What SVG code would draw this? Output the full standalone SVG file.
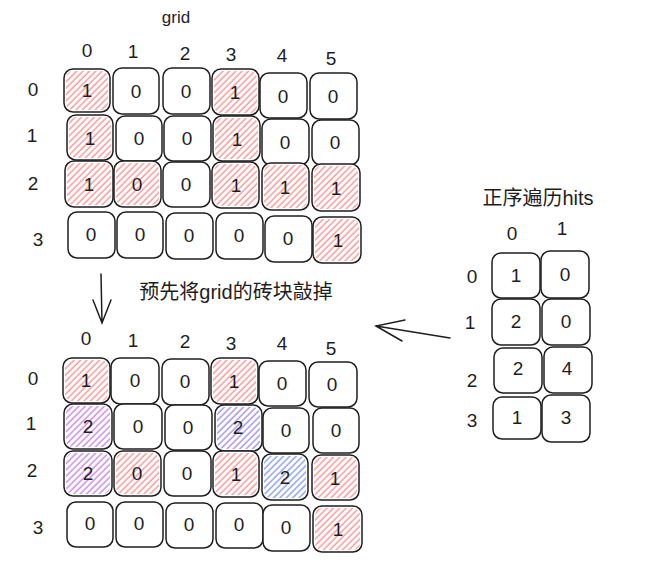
<svg xmlns="http://www.w3.org/2000/svg" width="648" height="584" viewBox="0 0 648 584">
<defs>
<pattern id="hr" patternUnits="userSpaceOnUse" width="4.5" height="4.5" patternTransform="rotate(45)"><line x1="1" y1="0" x2="1" y2="4.5" stroke="#ff8a8a" stroke-width="1.3"/></pattern>
<pattern id="hp" patternUnits="userSpaceOnUse" width="4.5" height="4.5" patternTransform="rotate(45)"><line x1="1" y1="0" x2="1" y2="4.5" stroke="#c77ce8" stroke-width="1.3"/></pattern>
<pattern id="hv" patternUnits="userSpaceOnUse" width="4.5" height="4.5" patternTransform="rotate(45)"><line x1="1" y1="0" x2="1" y2="4.5" stroke="#9b86f0" stroke-width="1.3"/></pattern>
<pattern id="hb" patternUnits="userSpaceOnUse" width="4.5" height="4.5" patternTransform="rotate(45)"><line x1="1" y1="0" x2="1" y2="4.5" stroke="#7f95f2" stroke-width="1.3"/></pattern>
</defs>
<style>
.c{fill:#fff;stroke:#1e1e1e;stroke-width:1.5}
.r{fill:url(#hr)}
.p{fill:url(#hp)}
.v{fill:url(#hv)}
.b{fill:url(#hb)}
text{font-family:"Liberation Sans","Noto Sans CJK SC",sans-serif;fill:#1e1e1e}
.n{font-size:19px;text-anchor:middle;dominant-baseline:central}
.t{font-size:19px;text-anchor:middle;dominant-baseline:central}
.ln{stroke:#1e1e1e;stroke-width:1.5;fill:none;stroke-linecap:round}
</style>
<rect width="648" height="584" fill="#fff"/>

<g id="labels">
<text class="t" x="176" y="17" style="font-size:17px">grid</text>
<text class="n" x="87" y="50">0</text><text class="n" x="133" y="51">1</text><text class="n" x="185" y="53">2</text><text class="n" x="231" y="54">3</text><text class="n" x="282" y="55">4</text><text class="n" x="331" y="58">5</text>
<text class="n" x="33" y="89">0</text><text class="n" x="32" y="135">1</text><text class="n" x="33" y="183">2</text><text class="n" x="38" y="239">3</text>

<text class="t" x="236" y="292" style="font-size:20px">预先将grid的砖块敲掉</text>

<text class="n" x="86" y="338">0</text><text class="n" x="133" y="340">1</text><text class="n" x="185" y="341">2</text><text class="n" x="231" y="343">3</text><text class="n" x="282" y="343">4</text><text class="n" x="331" y="348">5</text>
<text class="n" x="33" y="378">0</text><text class="n" x="31" y="423">1</text><text class="n" x="32" y="470">2</text><text class="n" x="38" y="527">3</text>

<text class="t" x="538" y="198" style="font-size:20px">正序遍历hits</text>
<text class="n" x="512" y="233">0</text><text class="n" x="562" y="228">1</text>
<text class="n" x="472" y="276">0</text><text class="n" x="470" y="322">1</text><text class="n" x="472" y="380">2</text><text class="n" x="472" y="420">3</text>
</g>

<g id="connectors">
<path class="ln" d="M101 274 L102 323 M93 300 L102 323 L111 300"/>
<path class="ln" d="M450 338 L376 326 M405 320 L376 326 L402 341"/>
</g>

<g id="top-grid">
<g id="t00"><rect class="c" x="64" y="69" width="46" height="43" rx="9"/><rect class="r" x="66" y="71" width="42" height="39" rx="7"/><text class="n" x="87" y="90">1</text></g>
<g id="t01"><rect class="c" x="113" y="68" width="46" height="46" rx="9"/><text class="n" x="136" y="91">0</text></g>
<g id="t02"><rect class="c" x="163" y="68" width="47" height="46" rx="9"/><text class="n" x="186" y="91">0</text></g>
<g id="t03"><rect class="c" x="212" y="69" width="47" height="46" rx="9"/><rect class="r" x="214" y="71" width="43" height="42" rx="7"/><text class="n" x="235" y="92">1</text></g>
<g id="t04"><rect class="c" x="260" y="73" width="47" height="45" rx="9"/><text class="n" x="283" y="96">0</text></g>
<g id="t05"><rect class="c" x="310" y="73" width="47" height="46" rx="9"/><text class="n" x="333" y="96">0</text></g>

<g id="t10"><rect class="c" x="67" y="115" width="46" height="45" rx="9"/><rect class="r" x="69" y="117" width="42" height="41" rx="7"/><text class="n" x="90" y="138">1</text></g>
<g id="t11"><rect class="c" x="116" y="116" width="46" height="45" rx="9"/><text class="n" x="139" y="138">0</text></g>
<g id="t12"><rect class="c" x="164" y="116" width="47" height="45" rx="9"/><text class="n" x="187" y="138">0</text></g>
<g id="t13"><rect class="c" x="213" y="116" width="47" height="45" rx="9"/><rect class="r" x="215" y="118" width="43" height="41" rx="7"/><text class="n" x="237" y="139">1</text></g>
<g id="t14"><rect class="c" x="262" y="119" width="47" height="46" rx="9"/><text class="n" x="285" y="142">0</text></g>
<g id="t15"><rect class="c" x="312" y="120" width="47" height="45" rx="9"/><text class="n" x="335" y="142">0</text></g>

<g id="t20"><rect class="c" x="65" y="161" width="48" height="46" rx="9"/><rect class="r" x="67" y="163" width="44" height="42" rx="7"/><text class="n" x="89" y="184">1</text></g>
<g id="t21"><rect class="c" x="114" y="161" width="47" height="46" rx="9"/><rect class="r" x="116" y="163" width="43" height="42" rx="7"/><text class="n" x="137" y="184">0</text></g>
<g id="t22"><rect class="c" x="163" y="162" width="47" height="45" rx="9"/><text class="n" x="186" y="184">0</text></g>
<g id="t23"><rect class="c" x="212" y="162" width="47" height="46" rx="9"/><rect class="r" x="214" y="164" width="43" height="42" rx="7"/><text class="n" x="236" y="185">1</text></g>
<g id="t24"><rect class="c" x="262" y="163" width="47" height="47" rx="9"/><rect class="r" x="264" y="165" width="43" height="43" rx="7"/><text class="n" x="285" y="187">1</text></g>
<g id="t25"><rect class="c" x="312" y="164" width="48" height="47" rx="9"/><rect class="r" x="314" y="166" width="44" height="43" rx="7"/><text class="n" x="336" y="188">1</text></g>

<g id="t30"><rect class="c" x="68" y="212" width="47" height="46" rx="9"/><text class="n" x="91" y="234">0</text></g>
<g id="t31"><rect class="c" x="117" y="212" width="46" height="46" rx="9"/><text class="n" x="140" y="234">0</text></g>
<g id="t32"><rect class="c" x="166" y="213" width="47" height="46" rx="9"/><text class="n" x="189" y="235">0</text></g>
<g id="t33"><rect class="c" x="216" y="213" width="47" height="46" rx="9"/><text class="n" x="239" y="235">0</text></g>
<g id="t34"><rect class="c" x="265" y="216" width="47" height="46" rx="9"/><text class="n" x="288" y="238">0</text></g>
<g id="t35"><rect class="c" x="313" y="217" width="48" height="46" rx="9"/><rect class="r" x="315" y="219" width="44" height="42" rx="7"/><text class="n" x="338" y="240">1</text></g>
</g>

<g id="bottom-grid">
<g id="b00"><rect class="c" x="63" y="358" width="47" height="45" rx="9"/><rect class="r" x="65" y="360" width="43" height="41" rx="7"/><text class="n" x="86" y="380">1</text></g>
<g id="b01"><rect class="c" x="111" y="358" width="48" height="46" rx="9"/><text class="n" x="135" y="380">0</text></g>
<g id="b02"><rect class="c" x="162" y="359" width="47" height="46" rx="9"/><text class="n" x="185" y="381">0</text></g>
<g id="b03"><rect class="c" x="211" y="358" width="47" height="46" rx="9"/><rect class="r" x="213" y="360" width="43" height="42" rx="7"/><text class="n" x="234" y="381">1</text></g>
<g id="b04"><rect class="c" x="259" y="361" width="47" height="45" rx="9"/><text class="n" x="282" y="383">0</text></g>
<g id="b05"><rect class="c" x="309" y="362" width="48" height="45" rx="9"/><text class="n" x="332" y="384">0</text></g>

<g id="b10"><rect class="c" x="64" y="404" width="48" height="45" rx="9"/><rect class="p" x="66" y="406" width="44" height="41" rx="7"/><text class="n" x="88" y="426">2</text></g>
<g id="b11"><rect class="c" x="114" y="404" width="48" height="45" rx="9"/><text class="n" x="138" y="426">0</text></g>
<g id="b12"><rect class="c" x="165" y="405" width="47" height="45" rx="9"/><text class="n" x="188" y="427">0</text></g>
<g id="b13"><rect class="c" x="215" y="405" width="47" height="46" rx="9"/><rect class="v" x="217" y="407" width="43" height="42" rx="7"/><text class="n" x="238" y="427">2</text></g>
<g id="b14"><rect class="c" x="263" y="408" width="46" height="45" rx="9"/><text class="n" x="286" y="430">0</text></g>
<g id="b15"><rect class="c" x="313" y="408" width="46" height="45" rx="9"/><text class="n" x="336" y="430">0</text></g>

<g id="b20"><rect class="c" x="64" y="451" width="48" height="45" rx="9"/><rect class="p" x="66" y="453" width="44" height="41" rx="7"/><text class="n" x="88" y="473">2</text></g>
<g id="b21"><rect class="c" x="114" y="451" width="47" height="45" rx="9"/><rect class="r" x="116" y="453" width="43" height="41" rx="7"/><text class="n" x="137" y="473">0</text></g>
<g id="b22"><rect class="c" x="164" y="451" width="47" height="45" rx="9"/><text class="n" x="187" y="473">0</text></g>
<g id="b23"><rect class="c" x="213" y="451" width="46" height="46" rx="9"/><rect class="r" x="215" y="453" width="42" height="42" rx="7"/><text class="n" x="236" y="474">1</text></g>
<g id="b24"><rect class="c" x="262" y="454" width="46" height="46" rx="9"/><rect class="b" x="264" y="456" width="42" height="42" rx="7"/><text class="n" x="285" y="477">2</text></g>
<g id="b25"><rect class="c" x="312" y="455" width="47" height="45" rx="9"/><rect class="r" x="314" y="457" width="43" height="41" rx="7"/><text class="n" x="335" y="478">1</text></g>

<g id="b30"><rect class="c" x="67" y="502" width="46" height="45" rx="9"/><text class="n" x="90" y="523">0</text></g>
<g id="b31"><rect class="c" x="116" y="502" width="47" height="45" rx="9"/><text class="n" x="139" y="523">0</text></g>
<g id="b32"><rect class="c" x="166" y="503" width="47" height="45" rx="9"/><text class="n" x="189" y="524">0</text></g>
<g id="b33"><rect class="c" x="216" y="503" width="47" height="45" rx="9"/><text class="n" x="239" y="524">0</text></g>
<g id="b34"><rect class="c" x="263" y="505" width="47" height="46" rx="9"/><text class="n" x="286" y="527">0</text></g>
<g id="b35"><rect class="c" x="313" y="506" width="49" height="46" rx="9"/><rect class="r" x="315" y="508" width="45" height="42" rx="7"/><text class="n" x="338" y="529">1</text></g>
</g>

<g id="hits">
<g id="h00"><rect class="c" x="492" y="253" width="48" height="45" rx="9"/><text class="n" x="516" y="275">1</text></g>
<g id="h01"><rect class="c" x="541" y="251" width="48" height="47" rx="9"/><text class="n" x="565" y="274">0</text></g>
<g id="h10"><rect class="c" x="492" y="299" width="48" height="46" rx="9"/><text class="n" x="516" y="321">2</text></g>
<g id="h11"><rect class="c" x="542" y="299" width="48" height="46" rx="9"/><text class="n" x="566" y="321">0</text></g>
<g id="h20"><rect class="c" x="494" y="348" width="48" height="45" rx="9"/><text class="n" x="518" y="368">2</text></g>
<g id="h21"><rect class="c" x="544" y="347" width="48" height="46" rx="9"/><text class="n" x="567" y="368">4</text></g>
<g id="h30"><rect class="c" x="493" y="397" width="48" height="42" rx="9"/><text class="n" x="517" y="417">1</text></g>
<g id="h31"><rect class="c" x="542" y="395" width="48" height="47" rx="9"/><text class="n" x="566" y="417">3</text></g>
</g>
</svg>
